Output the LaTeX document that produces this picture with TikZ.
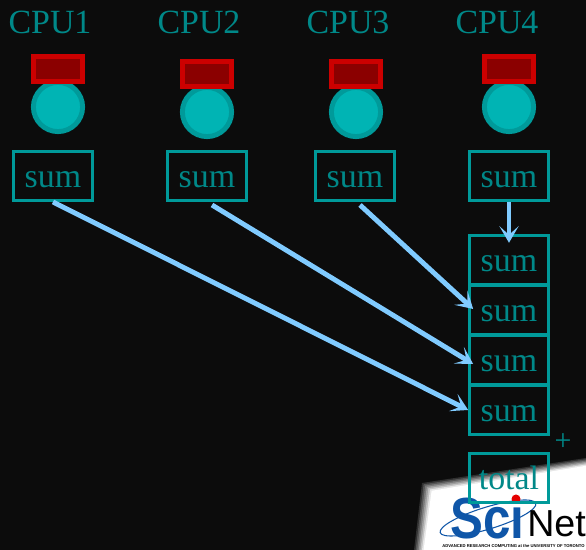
\documentclass[tikz,border=0pt]{standalone}
\usepackage{fontspec}
\setmainfont{Liberation Serif}
\newfontfamily\logofont{Liberation Sans}
\definecolor{bgdark}{HTML}{0C0C0C}
\definecolor{tealtext}{HTML}{008888}
\definecolor{tealfill}{HTML}{00B4B4}
\definecolor{tealline}{HTML}{009A9A}
\definecolor{redline}{HTML}{CC0000}
\definecolor{redfill}{HTML}{8B0000}
\definecolor{arrowblue}{HTML}{80CBFF}
\definecolor{sciblue}{HTML}{0F56A8}
\usetikzlibrary{arrows.meta}
\tikzset{
	cpulabel/.style = {text = tealtext, font = \fontsize{19.3}{23}\selectfont},
	cpucore/.style = {circle, draw = tealline, fill = tealfill, line width = 2.8pt, minimum size = 28pt, inner sep = 0pt},
	cpumem/.style = {rectangle, draw = redline, fill = redfill, line width = 2.8pt, minimum width = 28pt, minimum height = 14.2pt, inner sep = 0pt},
	sumbox/.style = {rectangle, draw = tealline, line width = 1.7pt, text = tealtext, minimum width = 44.8pt, minimum height = 27.9pt, inner sep = 0pt, text height = 13.6pt, text depth = 0pt, font = \fontsize{19.3}{23}\selectfont},
	sendarrow/.style = {draw = arrowblue, line width = 2.8pt, -{Stealth[length = 9.5pt, width = 11pt, inset = 5pt]}},
}
\begin{document}
\begin{tikzpicture}[x = 0.02cm, y = -0.02cm]
		\useasboundingbox [fill = bgdark] (0,0) rectangle (586,550);
		% ロゴの白い台紙
		\foreach \i/\p in {0/15, 1/30, 2/45, 3/60, 4/75, 5/90, 6/100} {
			\fill [white!\p!bgdark] (422+1.6*\i, 483+1.3*\i) -- (586, 458+1.3*\i) -- (586,550) -- (414+1.6*\i, 550) -- cycle;
		}
		% ロゴ
		\draw [sciblue, line width = 0.6pt, rotate around = {17:(488,518)}] (488,518) ellipse (50 and 11);
		\node [anchor = base west, inner sep = 0pt, text = sciblue, font = \logofont\bfseries\fontsize{33}{34}\selectfont, xscale = 0.85] (logosci) at (450,539) {Sc\i};
		\node [anchor = base west, inner sep = 0pt, text = black, font = \logofont\fontsize{21.4}{22}\selectfont] (logonet) at (527,537) {Net};
		\fill [red!90!black] (516,499) circle (4.5);
		\node [anchor = base west, inner sep = 0pt, text = black, font = \logofont\bfseries\fontsize{2.38}{3}\selectfont] (logosub) at (442,547.5) {ADVANCED RESEARCH COMPUTING at the UNIVERSITY OF TORONTO};
		% CPU
		\node [cpulabel] (cpu1) at (50,22) {CPU1};
		\node [cpulabel] (cpu2) at (199,22) {CPU2};
		\node [cpulabel] (cpu3) at (348,22) {CPU3};
		\node [cpulabel] (cpu4) at (497,22) {CPU4};
		\node [cpucore] (core1) at (58,107) {};
		\node [cpucore] (core2) at (207,112) {};
		\node [cpucore] (core3) at (356,112) {};
		\node [cpucore] (core4) at (509,107) {};
		\node [cpumem] (mem1) at (58,69) {};
		\node [cpumem] (mem2) at (207,74) {};
		\node [cpumem] (mem3) at (356,74) {};
		\node [cpumem] (mem4) at (509,69) {};
		% 各CPUのsum
		\node [sumbox] (sum1) at (53,176) {sum};
		\node [sumbox] (sum2) at (207,176) {sum};
		\node [sumbox] (sum3) at (355,176) {sum};
		\node [sumbox] (sum4) at (509,176) {sum};
		% 受信側のsum
		\node [sumbox] (recv4) at (509,260) {sum};
		\node [sumbox] (recv3) at (509,310) {sum};
		\node [sumbox] (recv2) at (509,360) {sum};
		\node [sumbox] (recv1) at (509,410) {sum};
		\node [sumbox] (total) at (509,478) {total};
		\node [text = tealtext, inner sep = 0pt, font = \fontsize{17}{17}\selectfont] (plus) at (563,442) {+};
		% 矢印
		\coordinate (from2) at (212,205);
		\coordinate (from3) at (360,205);
		\draw [sendarrow] (sum1.south) to (recv1.west);
		\draw [sendarrow] (from2) to ([shift = {(5,4)}]recv2.west);
		\draw [sendarrow] (from3) to ([shift = {(5,-1)}]recv3.west);
		\draw [sendarrow] (sum4.south) to ([yshift = -5]recv4.north);
	\end{tikzpicture}
\end{document}
